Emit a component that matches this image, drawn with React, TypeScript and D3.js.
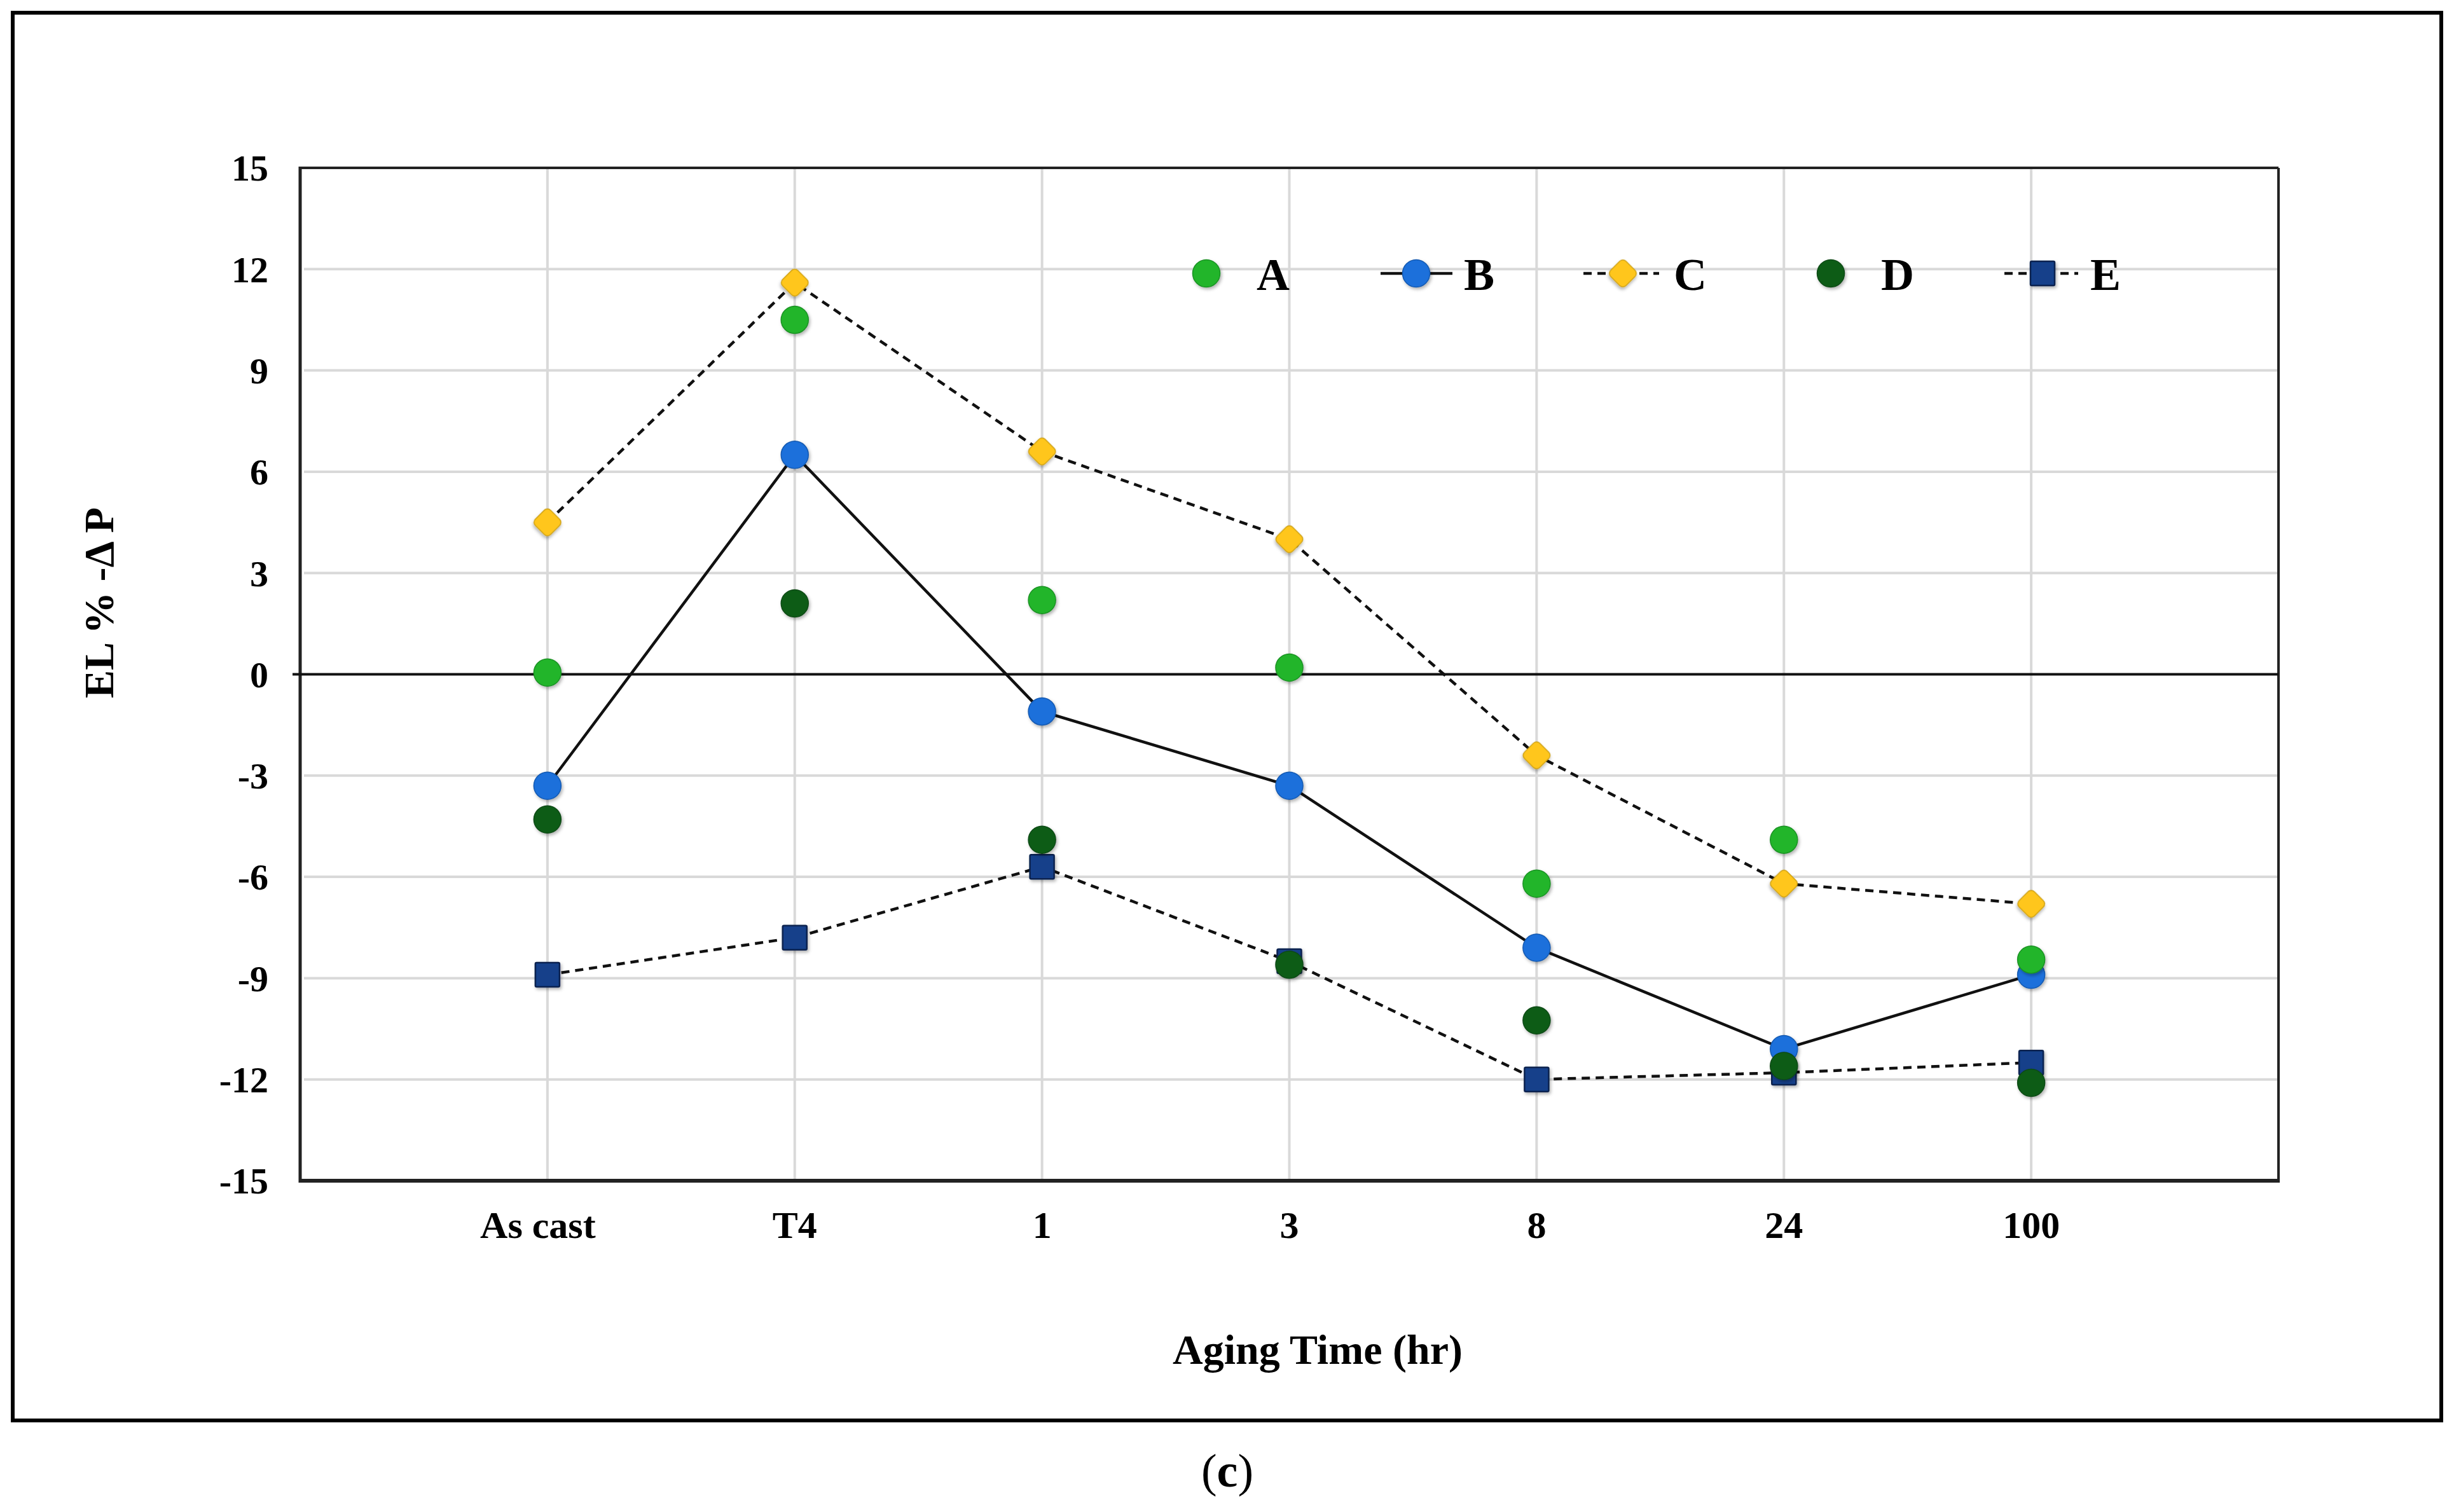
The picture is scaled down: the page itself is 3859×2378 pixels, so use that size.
import React from "react";
import * as d3 from "d3";

const categories = ["As cast", "T4", "1", "3", "8", "24", "100"];
const seriesA = [0.05, 10.5, 2.2, 0.2, -6.2, -4.9, -8.45];
const seriesB = [-3.3, 6.5, -1.1, -3.3, -8.1, -11.1, -8.9];
const seriesC = [4.5, 11.6, 6.6, 4.0, -2.4, -6.2, -6.8];
const seriesD = [-4.3, 2.1, -4.9, -8.6, -10.25, -11.6, -12.1];
const seriesE = [-8.9, -7.8, -5.7, -8.5, -12.0, -11.8, -11.5];
const yTicks = [-15, -12, -9, -6, -3, 0, 3, 6, 9, 12, 15];

const W = 3859;
const H = 2378;
const plot = { left: 472, right: 3583, top: 264, bottom: 1857 };
const FONT = "'Liberation Serif', 'Times New Roman', serif";

const colors = {
  A: "#21b52c",
  B: "#1a6fdb",
  C: "#ffc61a",
  D: "#0e5c17",
  E: "#123f8a",
};

type Shape = "circle" | "diamond" | "square";
type Series = { name: string; values: number[]; color: string; shape: Shape; line: "none" | "solid" | "dash" };

const series: Series[] = [
  { name: "A", values: seriesA, color: colors.A, shape: "circle", line: "none" },
  { name: "B", values: seriesB, color: colors.B, shape: "circle", line: "solid" },
  { name: "C", values: seriesC, color: colors.C, shape: "diamond", line: "dash" },
  { name: "D", values: seriesD, color: colors.D, shape: "circle", line: "none" },
  { name: "E", values: seriesE, color: colors.E, shape: "square", line: "dash" },
];

const markerOrder = ["E", "C", "B", "A", "D"];

function Marker({ x, y, shape, color }: { x: number; y: number; shape: Shape; color: string }) {
  const stroke = d3.color(color)!.darker(0.6).formatHex();
  if (shape === "circle") {
    return <circle cx={x} cy={y} r={21.5} fill={color} stroke={stroke} strokeWidth={1.5} filter="url(#shadow)" />;
  }
  if (shape === "diamond") {
    return (
      <rect x={x - 17} y={y - 17} width={34} height={34} rx={7} fill={color} stroke={stroke} strokeWidth={1.5}
        transform={`rotate(45 ${x} ${y})`} filter="url(#shadow)" />
    );
  }
  return <rect x={x - 19} y={y - 19} width={38} height={38} rx={2} fill={color} stroke="#0a2350" strokeWidth={2.5} filter="url(#shadow)" />;
}

const legendItems = [
  { name: "A", marker: 1897, line: null as null | [number, number], text: 1976 },
  { name: "B", marker: 2227, line: [2171, 2284] as [number, number], text: 2302 },
  { name: "C", marker: 2552, line: [2490, 2609] as [number, number], text: 2632 },
  { name: "D", marker: 2879, line: null as null | [number, number], text: 2958 },
  { name: "E", marker: 3212, line: [3152, 3268] as [number, number], text: 3287 },
];

export default function App() {
  const x = d3.scalePoint<string>().domain(categories).range([plot.left, plot.right]).padding(1);
  const y = d3.scaleLinear().domain([-15, 15]).range([plot.bottom, plot.top]);
  const line = d3
    .line<number>()
    .x((_, i) => x(categories[i])!)
    .y((v) => y(v));

  const byName = (n: string) => series.find((s) => s.name === n)!;
  const legendY = 430;

  return (
    <div style={{ position: "absolute", left: 0, top: 0 }}>
      <svg width={W} height={H} viewBox={`0 0 ${W} ${H}`} style={{ display: "block", background: "#fff" }}>
        <defs>
          <filter id="shadow" x="-50%" y="-50%" width="200%" height="200%">
            <feDropShadow dx={2} dy={3} stdDeviation={2.5} floodColor="#000" floodOpacity={0.3} />
          </filter>
        </defs>
        <rect x={0} y={0} width={W} height={H} fill="#fff" />
        {/* outer frame */}
        <rect x={20} y={20} width={3819} height={2214} fill="none" stroke="#000" strokeWidth={6} />

        {/* gridlines */}
        {yTicks
          .filter((t) => t !== 15 && t !== -15 && t !== 0)
          .map((t) => (
            <line key={"h" + t} x1={plot.left + 6} x2={plot.right} y1={y(t)} y2={y(t)} stroke="#d9d9d9" strokeWidth={4} />
          ))}
        {categories.map((c) => (
          <line key={"v" + c} x1={x(c)} x2={x(c)} y1={plot.top} y2={plot.bottom} stroke="#d9d9d9" strokeWidth={4} />
        ))}

        {/* plot border */}
        <line x1={plot.left} x2={plot.right} y1={plot.top} y2={plot.top} stroke="#222" strokeWidth={4} />
        <line x1={plot.right} x2={plot.right} y1={plot.top} y2={plot.bottom} stroke="#222" strokeWidth={4} />
        <line x1={plot.left} x2={plot.left} y1={plot.top - 2} y2={plot.bottom + 3} stroke="#222" strokeWidth={5} />
        <line x1={plot.left} x2={plot.right + 2} y1={plot.bottom} y2={plot.bottom} stroke="#222" strokeWidth={6} />
        {/* zero line */}
        <line x1={plot.left - 12} x2={plot.right} y1={y(0)} y2={y(0)} stroke="#111" strokeWidth={4} />

        {/* y tick labels */}
        {yTicks.map((t) => (
          <text key={"yt" + t} x={422} y={y(t)} dy="0.35em" textAnchor="end" fontFamily={FONT} fontWeight="bold" fontSize={58} fill="#000">
            {t}
          </text>
        ))}
        {/* x tick labels */}
        {categories.map((c) => (
          <text key={"xt" + c} x={x(c)! - (c === "As cast" ? 15 : 0)} y={1947} textAnchor="middle" fontFamily={FONT} fontWeight="bold" fontSize={60} fill="#000">
            {c}
          </text>
        ))}

        {/* axis titles */}
        <text x={2072} y={2145} textAnchor="middle" fontFamily={FONT} fontWeight="bold" fontSize={66} fill="#000">
          Aging Time (hr)
        </text>
        <text x={0} y={0} transform="translate(178,948) rotate(-90)" textAnchor="middle" fontFamily={FONT} fontWeight="bold" fontSize={66} fill="#000">
          EL % -Δ P
        </text>

        {/* series lines */}
        {series
          .filter((s) => s.line !== "none")
          .map((s) => (
            <path key={"l" + s.name} d={line(s.values)!} fill="none" stroke="#111" strokeWidth={4.5}
              strokeDasharray={s.line === "dash" ? "13 9" : undefined} />
          ))}

        {/* markers */}
        {markerOrder.map((n) => {
          const s = byName(n);
          return (
            <g key={"m" + n}>
              {s.values.map((v, i) => (
                <Marker key={i} x={x(categories[i])!} y={y(v)} shape={s.shape} color={s.color} />
              ))}
            </g>
          );
        })}

        {/* legend */}
        {legendItems.map((it) => {
          const s = byName(it.name);
          return (
            <g key={"lg" + it.name}>
              {it.line && (
                <line x1={it.line[0]} x2={it.line[1]} y1={legendY} y2={legendY} stroke="#111" strokeWidth={4.5}
                  strokeDasharray={s.line === "dash" ? "13 9" : undefined} />
              )}
              <Marker x={it.marker} y={legendY} shape={s.shape} color={s.color} />
              <text x={it.text} y={legendY + 26} fontFamily={FONT} fontWeight="bold" fontSize={72} fill="#000">
                {it.name}
              </text>
            </g>
          );
        })}

        {/* caption */}
        <text x={1930} y={2338} textAnchor="middle" fontFamily={FONT} fontSize={74} fill="#000">
          (<tspan fontWeight="bold">c</tspan>)
        </text>
      </svg>
    </div>
  );
}
